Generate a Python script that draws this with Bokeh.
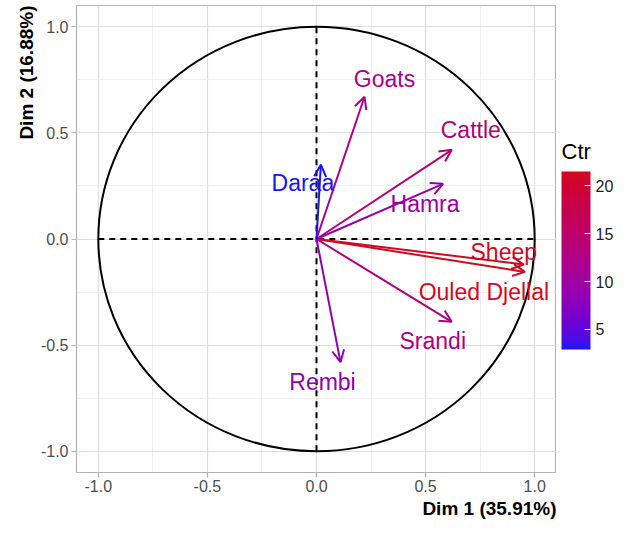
import numpy as np
from bokeh.plotting import figure
from bokeh.layouts import row
from bokeh.models import (ColumnDataSource, Range1d, FixedTicker, ColorBar,
                          LinearColorMapper, Arrow, OpenHead, Title, Label)
from bokeh.core.properties import value
from bokeh.embed import file_html
from bokeh.resources import INLINE

# ---- data ----
variables = ["Sheep", "Ouled Djellal", "Goats", "Cattle", "Hamra", "Daraa", "Srandi", "Rembi"]
dim1 = [0.95, 0.955, 0.22, 0.62, 0.58, 0.02, 0.62, 0.11]
dim2 = [-0.12, -0.155, 0.67, 0.42, 0.26, 0.35, -0.39, -0.58]
contrib = [21.2, 21.5, 11.8, 13.3, 9.6, 2.9, 12.7, 8.2]
major_ticks = [-1.0, -0.5, 0.0, 0.5, 1.0]
minor_ticks = [-0.75, -0.25, 0.25, 0.75]
cbar_ticks = [5, 10, 15, 20]
x_title = "Dim 1 (35.91%)"
y_title = "Dim 2 (16.88%)"
legend_title = "Ctr"

# label placement offsets (pixels), like ggrepel output
label_dx = [-20, -41, 20, 19, -18, -18, -19, -18]
label_dy = [-12, 20, -18, -20, 20, 18, 19, 20]

FONT = "Liberation Sans"

# ---- gradient (Lab interpolation, like ggplot2 scale_colour_gradient) ----
M = np.array([[0.4124564, 0.3575761, 0.1804375],
              [0.2126729, 0.7151522, 0.0721750],
              [0.0193339, 0.1191920, 0.9503041]])
Minv = np.linalg.inv(M)
WHITE = M @ np.ones(3)


def _lin(c):
    return np.where(c <= 0.04045, c / 12.92, ((c + 0.055) / 1.055) ** 2.4)


def _gam(c):
    c = np.clip(c, 0, 1)
    return np.where(c <= 0.0031308, 12.92 * c, 1.055 * c ** (1 / 2.4) - 0.055)


def _f(t):
    d = 6 / 29
    return np.where(t > d ** 3, np.cbrt(t), t / (3 * d * d) + 4 / 29)


def _finv(t):
    d = 6 / 29
    return np.where(t > d, t ** 3, 3 * d * d * (t - 4 / 29))


def hex2lab(h):
    rgb = np.array([int(h[i:i + 2], 16) for i in (1, 3, 5)]) / 255
    xyz = (M @ _lin(rgb)) / WHITE
    fx, fy, fz = _f(xyz)
    return np.array([116 * fy - 16, 500 * (fx - fy), 200 * (fy - fz)])


def lab2hex(lab):
    L, a, b = lab
    fy = (L + 16) / 116
    fx = fy + a / 500
    fz = fy - b / 200
    xyz = _finv(np.array([fx, fy, fz])) * WHITE
    rgb = _gam(Minv @ xyz)
    return "#%02x%02x%02x" % tuple(int(round(v * 255)) for v in rgb)


low_lab, high_lab = hex2lab("#1515F5"), hex2lab("#D20A1E")
palette = [lab2hex(low_lab + (high_lab - low_lab) * t) for t in np.linspace(0, 1, 256)]
c_low, c_high = min(contrib), max(contrib)
colors = [palette[int(round((c - c_low) / (c_high - c_low) * 255))] for c in contrib]

src = ColumnDataSource(dict(x=dim1, y=dim2, name=variables, color=colors,
                            dx=label_dx, dy=label_dy))

W_MAIN, W_LEG, H = 556, 58, 520
B_TOP, B_BOTTOM = 5, 48
FRAME_H = H - B_TOP - B_BOTTOM

# ---- main figure ----
p = figure(width=W_MAIN, height=H, x_range=Range1d(-1.1, 1.1), y_range=Range1d(-1.1, 1.1),
           output_backend="svg", toolbar_location=None,
           min_border_left=76, min_border_right=0, min_border_top=B_TOP,
           min_border_bottom=B_BOTTOM)

p.outline_line_color = "#B3B3B3"
p.outline_line_width = 1.2
p.background_fill_color = "white"
p.border_fill_color = "white"

for ax in (p.xaxis, p.yaxis):
    ax.ticker = FixedTicker(ticks=major_ticks, minor_ticks=minor_ticks)
    ax.major_label_overrides = {t: "%.1f" % t for t in major_ticks}
    ax.axis_line_color = None
    ax.major_tick_line_color = "#B3B3B3"
    ax.major_tick_line_width = 1.2
    ax.major_tick_out = 5
    ax.major_tick_in = 0
    ax.minor_tick_line_color = None
    ax.major_label_text_font = FONT
    ax.major_label_text_font_size = "16px"
    ax.major_label_text_color = "#4D4D4D"
    ax.major_label_standoff = 3

p.xaxis.major_label_standoff = 2

# axis titles, right/top aligned as in the reference
p.add_layout(Title(text=x_title, align="right", text_font=FONT, text_font_size="19px",
                   text_font_style="bold", text_color="black", standoff=2), "below")
p.add_layout(Title(text=y_title, align="right", text_font=FONT, text_font_size="19px",
                   text_font_style="bold", text_color="black", standoff=2), "left")

for g in (p.xgrid, p.ygrid):
    g.grid_line_color = "#DEDEDE"
    g.grid_line_width = 1.2
    g.minor_grid_line_color = "#EBEBEB"
    g.minor_grid_line_width = 0.8

# correlation circle and dashed axes
p.ellipse(x=0, y=0, width=2, height=2, fill_color=None, line_color="black", line_width=2)
p.segment(x0=[-1, 0], y0=[0, -1], x1=[1, 0], y1=[0, 1],
          line_color="black", line_width=2, line_dash="6 5")

# arrows
for xe, ye, c in zip(dim1, dim2, colors):
    p.add_layout(Arrow(end=OpenHead(size=12, line_color=c, line_width=2),
                       x_start=0, y_start=0, x_end=xe, y_end=ye,
                       line_color=c, line_width=2))

# labels
p.text(x="x", y="y", text="name", source=src, x_offset="dx", y_offset="dy",
       text_color="color", text_align="center", text_baseline="middle",
       text_font=value(FONT), text_font_size="23px")

# ---- legend panel (colour bar) ----
leg = figure(width=W_LEG, height=H, x_range=Range1d(0, W_LEG), y_range=Range1d(0, FRAME_H),
             output_backend="svg", toolbar_location=None,
             x_axis_type=None, y_axis_type=None,
             min_border_left=0, min_border_right=0, min_border_top=B_TOP,
             min_border_bottom=B_BOTTOM)
leg.outline_line_color = None
leg.grid.visible = False
leg.background_fill_color = "white"
leg.border_fill_color = "white"

mapper = LinearColorMapper(palette=palette, low=c_low, high=c_high)
cb = ColorBar(color_mapper=mapper, ticker=FixedTicker(ticks=cbar_ticks),
              width=29, height=178, padding=0, location=(5, 123),
              major_label_text_font=FONT, major_label_text_font_size="16px",
              major_label_text_color="#222222", label_standoff=5,
              major_tick_line_color="white", major_tick_line_width=1.2,
              major_tick_in=6, major_tick_out=0, bar_line_color=None,
              border_line_color=None, background_fill_color=None)
leg.add_layout(cb, "center")
leg.add_layout(Label(x=5, y=321, text=legend_title, text_font=FONT,
                     text_font_size="22px", text_font_style="normal",
                     text_color="black", text_baseline="alphabetic"))

layout = row(p, leg)
open("out.html", "w").write(file_html(layout, INLINE))
